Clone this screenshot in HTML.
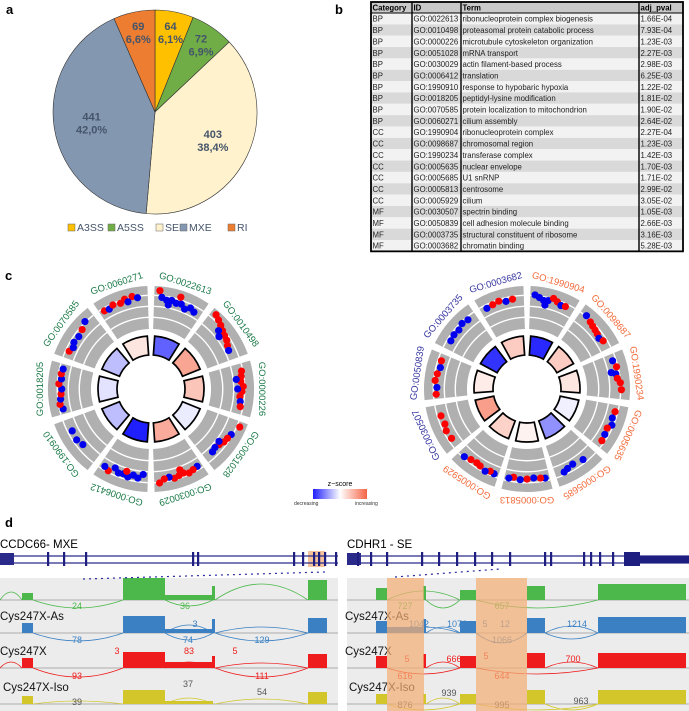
<!DOCTYPE html>
<html><head><meta charset="utf-8"><style>
html,body{margin:0;padding:0;background:#fff;}
svg{display:block;font-family:"Liberation Sans",sans-serif;}
</style></head><body>
<svg id="fig" width="689" height="711" viewBox="0 0 689 711" xmlns="http://www.w3.org/2000/svg">
<text x="6" y="14" font-size="13" font-weight="bold">a</text>
<text x="335" y="14" font-size="13" font-weight="bold">b</text>
<text x="5" y="280" font-size="13" font-weight="bold">c</text>
<text x="5" y="527" font-size="13" font-weight="bold">d</text>
<g id="pie"></g>
<g id="legend"></g>
<g id="table"></g>
<g id="circL"></g>
<g id="circR"></g>
<g id="cbar"></g>
<g id="sashimi"></g>
</svg>
<script>
var NS="http://www.w3.org/2000/svg";
// ---------- pie data ----------
var pieLabels=["A3SS","A5SS","SE","MXE","RI"];
var pieValues=[64,72,403,441,69];
var piePct=["6,1%","6,9%","38,4%","42,0%","6,6%"];
var pieColors=["#ffc000","#70ad47","#fff2cc","#8497b0","#ed7d31"];
// ---------- table data ----------
var tCat=["BP","BP","BP","BP","BP","BP","BP","BP","BP","BP","CC","CC","CC","CC","CC","CC","CC","MF","MF","MF","MF"];
var tId=["GO:0022613","GO:0010498","GO:0000226","GO:0051028","GO:0030029","GO:0006412","GO:1990910","GO:0018205","GO:0070585","GO:0060271","GO:1990904","GO:0098687","GO:1990234","GO:0005635","GO:0005685","GO:0005813","GO:0005929","GO:0030507","GO:0050839","GO:0003735","GO:0003682"];
var tTerm=["ribonucleoprotein complex biogenesis","proteasomal protein catabolic process","microtubule cytoskeleton organization","mRNA transport","actin filament-based process","translation","response to hypobaric hypoxia","peptidyl-lysine modification","protein localization to mitochondrion","cilium assembly","ribonucleoprotein complex","chromosomal region","transferase complex","nuclear envelope","U1 snRNP","centrosome","cilium","spectrin binding","cell adhesion molecule binding","structural constituent of ribosome","chromatin binding"];
var tP=["1.66E-04","7.93E-04","1.23E-03","2.27E-03","2.98E-03","6.25E-03","1.22E-02","1.81E-02","1.90E-02","2.64E-02","2.27E-04","1.23E-03","1.42E-03","1.70E-03","1.71E-02","2.99E-02","3.05E-02","1.05E-03","2.66E-03","3.16E-03","5.28E-03"];
// ---------- circle data ----------
var circLTerms=["GO:0022613","GO:0010498","GO:0000226","GO:0051028","GO:0030029","GO:0006412","GO:1990910","GO:0018205","GO:0070585","GO:0060271"];
var circLZ=[-0.85,0.7,0.45,-0.1,0.65,-1.2,-0.35,-0.15,-0.35,0.2];
var circRTerms=["GO:1990904","GO:0098687","GO:1990234","GO:0005635","GO:0005685","GO:0005813","GO:0005929","GO:0030507","GO:0050839","GO:0003735","GO:0003682"];
var circRZ=[-1.15,0.4,0.2,-0.08,-0.6,0.1,0.35,0.75,0.15,-1.1,0.4];
// points: [sector, angleFrac, radialFrac, red(1)/blue(0)]
var ptsL=[[0,0.1,0.9,1],[0,0.15,0.75,0],[0,0.25,0.7,0],[0,0.35,0.72,0],[0,0.45,0.68,0],[0,0.55,0.7,0],[0,0.65,0.62,0],[0,0.75,0.7,0],[0,0.5,0.85,1],[0,0.85,0.65,0],[0,0.3,0.6,0],
[1,0.1,0.9,1],[1,0.2,0.85,1],[1,0.3,0.8,1],[1,0.4,0.75,1],[1,0.5,0.72,1],[1,0.6,0.7,1],[1,0.45,0.6,0],[1,0.7,0.65,1],[1,0.8,0.62,0],[1,0.35,0.68,0],
[2,0.15,0.75,1],[2,0.25,0.72,1],[2,0.35,0.7,1],[2,0.45,0.75,1],[2,0.55,0.72,1],[2,0.65,0.68,1],[2,0.75,0.7,0],[2,0.3,0.6,0],[2,0.85,0.72,1],[2,0.5,0.62,0],
[3,0.1,0.85,1],[3,0.3,0.75,0],[3,0.4,0.72,1],[3,0.5,0.7,1],[3,0.6,0.65,1],[3,0.7,0.62,0],[3,0.55,0.6,0],[3,0.8,0.65,0],
[4,0.1,0.7,0],[4,0.2,0.72,1],[4,0.3,0.75,1],[4,0.4,0.7,1],[4,0.5,0.72,1],[4,0.6,0.75,1],[4,0.7,0.7,0],[4,0.8,0.72,1],[4,0.9,0.8,1],[4,0.45,0.6,1],
[5,0.1,0.6,0],[5,0.2,0.7,0],[5,0.3,0.65,0],[5,0.4,0.72,0],[5,0.5,0.68,0],[5,0.6,0.7,0],[5,0.7,0.62,0],[5,0.8,0.75,1],[5,0.9,0.7,0],[5,0.45,0.6,1],
[6,0.4,0.65,0],[6,0.55,0.7,0],[6,0.75,0.68,0],
[7,0.1,0.7,0],[7,0.2,0.75,1],[7,0.3,0.72,0],[7,0.4,0.7,1],[7,0.5,0.68,0],[7,0.6,0.75,1],[7,0.7,0.7,0],[7,0.8,0.72,1],[7,0.9,0.7,0],
[8,0.15,0.7,1],[8,0.25,0.65,0],[8,0.35,0.7,0],[8,0.5,0.68,0],[8,0.65,0.72,1],[8,0.8,0.8,0],
[9,0.1,0.72,1],[9,0.2,0.7,0],[9,0.3,0.75,1],[9,0.45,0.72,1],[9,0.55,0.78,1],[9,0.7,0.8,1],[9,0.8,0.75,0],[9,0.6,0.7,0]];
var ptsR=[[0,0.1,0.8,0],[0,0.2,0.75,0],[0,0.3,0.7,0],[0,0.4,0.72,0],[0,0.5,0.8,1],[0,0.6,0.75,1],[0,0.7,0.7,0],[0,0.8,0.72,1],[0,0.35,0.6,0],
[1,0.15,0.8,0],[1,0.3,0.75,1],[1,0.4,0.72,1],[1,0.5,0.7,1],[1,0.6,0.68,1],[1,0.7,0.65,0],[1,0.8,0.7,1],
[2,0.15,0.7,0],[2,0.3,0.75,1],[2,0.45,0.7,0],[2,0.55,0.72,1],[2,0.65,0.78,1],[2,0.8,0.8,1],[2,0.4,0.6,0],
[3,0.15,0.72,1],[3,0.3,0.7,0],[3,0.45,0.75,0],[3,0.55,0.68,1],[3,0.7,0.7,0],[3,0.85,0.72,1],
[4,0.3,0.7,0],[4,0.55,0.65,0],[4,0.7,0.68,0],[4,0.8,0.72,0],
[5,0.1,0.72,0],[5,0.2,0.7,1],[5,0.35,0.68,0],[5,0.5,0.7,1],[5,0.65,0.72,0],[5,0.8,0.68,1],[5,0.9,0.72,0],
[6,0.1,0.72,0],[6,0.2,0.7,1],[6,0.3,0.75,0],[6,0.45,0.7,1],[6,0.55,0.68,1],[6,0.7,0.7,1],[6,0.85,0.75,0],
[7,0.2,0.7,1],[7,0.4,0.72,1],[7,0.55,0.68,1],[7,0.75,0.7,1],
[8,0.1,0.72,1],[8,0.25,0.7,0],[8,0.4,0.75,1],[8,0.55,0.72,1],[8,0.7,0.68,0],[8,0.85,0.7,1],
[9,0.2,0.7,0],[9,0.35,0.72,0],[9,0.5,0.7,0],[9,0.65,0.75,0],[9,0.8,0.72,0],
[10,0.15,0.7,0],[10,0.3,0.72,1],[10,0.45,0.75,1],[10,0.6,0.7,0],[10,0.75,0.72,1]];

function el(tag,attrs,parent,txt){var e=document.createElementNS(NS,tag);for(var k in attrs)e.setAttribute(k,attrs[k]);if(txt!==undefined)e.textContent=txt;parent.appendChild(e);return e;}

// ---------- pie ----------
(function(){
var g=document.getElementById('pie');var cx=155,cy=112,r=102;
var tot=pieValues.reduce(function(a,b){return a+b;},0);var a0=0;
for(var i=0;i<pieValues.length;i++){
 var a1=a0+pieValues[i]/tot*2*Math.PI;
 var x0=cx+r*Math.sin(a0),y0=cy-r*Math.cos(a0),x1=cx+r*Math.sin(a1),y1=cy-r*Math.cos(a1);
 var p=el('path',{d:'M'+cx+','+cy+'L'+x0+','+y0+'A'+r+','+r+' 0 '+((a1-a0)>Math.PI?1:0)+' 1 '+x1+','+y1+'Z',fill:pieColors[i],stroke:'#333','stroke-width':0.6},g);
 
 
 var m=(a0+a1)/2,f=(pieValues[i]/tot<0.1)?0.8:0.63;
 var lx=cx+r*f*Math.sin(m),ly=cy-r*f*Math.cos(m);
 var t1=el('text',{x:lx,y:ly-2,'text-anchor':'middle','font-size':11,'font-weight':'bold',fill:'#44546a'},g,String(pieValues[i]));
 
 
 var t2=el('text',{x:lx,y:ly+11,'text-anchor':'middle','font-size':11,'font-weight':'bold',fill:'#44546a'},g,piePct[i]);
 
 
 a0=a1;}
var lg=document.getElementById('legend');var lxs=[68,108,156,180,228];
for(var j=0;j<pieLabels.length;j++){
 var s=el('rect',{x:lxs[j],y:224,width:7,height:7,fill:pieColors[j],stroke:'#666','stroke-width':0.5},lg);
 
 
 var t=el('text',{x:lxs[j]+9,y:231,'font-size':10.5,fill:'#44546a'},lg,pieLabels[j]);
 
 }
})();

// ---------- table ----------
(function(){
var g=document.getElementById('table');var L=371,R=683,top=2,hh=11,rh=11.35;var cols=[371,412,461,639,683];
var bg=el('rect',{x:L,y:top,width:R-L,height:hh,fill:'#c9c9c9'},g);


var heads=["Category","ID","Term","adj_pval"];
for(var h=0;h<4;h++){var ht=el('text',{x:cols[h]+1.5,y:top+8.7,'font-size':7.8,'font-weight':'bold'},g,heads[h]);
 
 }
for(var i=0;i<tId.length;i++){
 var y=top+hh+i*rh;
 var rr=el('rect',{x:L,y:y,width:R-L,height:rh,fill:(i%2?'#d9d9d9':'#f2f2f2')},g);
 
 
 var vals=[tCat[i],tId[i],tTerm[i],tP[i]];
 for(var c=0;c<4;c++){var tt=el('text',{x:cols[c]+1.5,y:y+8.7,'font-size':7.8,fill:'#222'},g,vals[c]);
  
  }
}
var bot=top+hh+tId.length*rh;
for(var k=1;k<4;k++){var ln=el('line',{x1:cols[k],x2:cols[k],y1:top,y2:bot,stroke:'#000','stroke-width':1.4},g);
 
 }
var hl=el('line',{x1:L,x2:R,y1:top+hh,y2:top+hh,stroke:'#000','stroke-width':1},g);


var bd=el('rect',{x:L,y:top,width:R-L,height:bot-top,fill:'none',stroke:'#000','stroke-width':1.8},g);


})();

// ---------- circles ----------
function zcol(z){var m=1.2,t=Math.min(1,Math.abs(z)/m);var c=z<0?[32,32,255]:[245,100,70];
 var r=Math.round(255+(c[0]-255)*t),g=Math.round(255+(c[1]-255)*t),b=Math.round(255+(c[2]-255)*t);return 'rgb('+r+','+g+','+b+')';}
function annulus(cx,cy,r0,r1,a0,a1){var d2r=Math.PI/180;a0*=d2r;a1*=d2r;
 function P(r,a){return (cx+r*Math.sin(a)).toFixed(2)+','+(cy-r*Math.cos(a)).toFixed(2);}
 return 'M'+P(r1,a0)+'A'+r1+','+r1+' 0 0 1 '+P(r1,a1)+'L'+P(r0,a1)+'A'+r0+','+r0+' 0 0 0 '+P(r0,a0)+'Z';}
function drawCircle(gid,cx,cy,terms,zs,pts,labCol){
 var g=document.getElementById(gid);var n=terms.length,sp=360/n;
 var b0=60,b1=103,i0=34,i1=53;
 for(var i=0;i<n;i++){
  var a0=i*sp+2,a1=(i+1)*sp-2;
  var band=el('path',{d:annulus(cx,cy,b0,b1,a0,a1),fill:'#b0b0b0'},g);
  
  
  [71,82,93].forEach(function(rw){el('path',{d:annulus(cx,cy,rw,rw+1.4,a0,a1),fill:'#fff'},g);});
  var za=i*sp+4,zb=(i+1)*sp-4;
  var seg=el('path',{d:annulus(cx,cy,i0,i1,za,zb),fill:zcol(zs[i]),stroke:'#000','stroke-width':1.7},g);
  
  
  var mid=(i+0.5)*sp;
  var col=typeof labCol==='function'?labCol(i):labCol;
  var tx=el('text',{x:0,y:-108,'text-anchor':'middle','font-size':9.5,fill:col,transform:'translate('+cx+','+cy+') rotate('+mid+')'},g,terms[i]);
  
  
 }
 pts.forEach(function(p){
  var a=(p[0]*sp+2+p[1]*(sp-4))*Math.PI/180,r=b0+p[2]*(b1-b0);
  var c=el('circle',{cx:cx+r*Math.sin(a),cy:cy-r*Math.cos(a),r:3.6,fill:p[3]?'#ff0000':'#0000ee'},g);
  
  
 });
}
drawCircle('circL',151,389,circLTerms,circLZ,ptsL,'#1b7a48');
drawCircle('circR',527,389,circRTerms,circRZ,ptsR,function(i){return i<7?'#f26b3a':'#3535a0';});
(function(){var g=document.getElementById('cbar');
 var defs=el('defs',{},g);var lg=el('linearGradient',{id:'zg',x1:0,x2:1,y1:0,y2:0},defs);
 el('stop',{offset:'0','stop-color':'#2020ff'},lg);el('stop',{offset:'0.5','stop-color':'#ffffff'},lg);el('stop',{offset:'1','stop-color':'#f56446'},lg);
 var r=el('rect',{x:313,y:489,width:54,height:10,fill:'url(#zg)'},g);
 
 var t=el('text',{x:340,y:486,'text-anchor':'middle','font-size':7},g,'z\u2212score');
 
 var t2=el('text',{x:294,y:505,'font-size':5,fill:'#333'},g,'decreasing');
 
 var t3=el('text',{x:355,y:505,'font-size':5,fill:'#333'},g,'increasing');
 
})();

// ---------- sashimi ----------
var trackNames=["","Cys247X-As","Cys247X","Cys247X-Iso"];
var trackColors=["#4cb84c","#3a80c3","#ee1c1c","#d2c62a"];
var trackBase=[600,633,668,704];
// coverage blocks [x0,x1,height per track]
var covL=[[22,33,[7,10,10,8]],[123,165,[22,17,16,14]],[165,213,[5,4,6,3]],[212,215,[14,14,12,0]],[308,327,[20,15,14,12]]];
var covR=[[376,387,[12,12,12,10]],[387,424,[0,6,0,0]],[423,426,[14,14,14,10]],[460,476,[10,12,12,10]],[476,527,[0,0,0,0]],[527,545,[14,15,15,14]],[598,686,[16,16,15,14]]];
// junction arcs [track,x0,x1,depth]
var arcsL=[[0,33,123,8],[0,165,213,6],[0,215,308,-16],[0,0,22,-8],[1,33,123,8],[1,165,213,7],[1,215,308,8],[1,165,213,-8],[1,215,308,-6],[2,33,123,9],[2,215,308,9],[2,165,213,-6],[2,215,308,-5],[2,0,22,-6],[3,33,123,-3],[3,165,213,-6],[3,215,308,-5]];
var arcsR=[[0,387,460,-9],[0,426,460,8],[0,476,598,8],[1,387,460,-6],[1,426,460,-6],[1,476,527,10],[1,545,598,-7],[1,545,598,6],[2,387,460,6],[2,426,460,-6],[2,476,598,6],[2,545,598,-6],[3,426,460,-6],[3,387,460,6],[3,476,598,6],[3,545,598,6]];
var numsL=[["24",77,609,0],["36",185,609,0],["3",195,627,1],["78",77,643,1],["74",188,643,1],["129",262,643,1],["3",117,654,2],["83",189,654,2],["5",235,654,2],["93",77,679,2],["111",262,679,2],["37",188,687,3],["54",262,695,3],["39",77,705,3]];
var numsR=[["727",405,609,0],["657",502,609,0],["1042",419,627,1],["1076",457,627,1],["5",485,627,1],["12",505,627,1],["1214",577,627,1],["1066",502,643,1],["5",407,662,2],["666",454,662,2],["5",486,659,2],["700",573,662,2],["616",405,679,2],["644",502,679,2],["939",449,696,3],["876",405,708,3],["995",502,708,3],["963",581,704,3]];
var exonsL=[48,64,86,193,198,294,303,314,319,325,336];
var exonsR=[358,371,387,422,439,457,475,492,510,545,551,584,591,600,613];
(function(){
 var g=document.getElementById('sashimi');
 function panel(x0,x1,title,exons,cov,arcs,nums,labOff,hl,geneHl){
  var t=el('text',{x:x0,y:548,'font-size':11.5},g,title);
  
  if(geneHl){var gh=el('rect',{x:geneHl[0],y:551,width:geneHl[1]-geneHl[0],height:16,fill:'#f5c29a'},g);
   }
  [556,563].forEach(function(y){var l=el('line',{x1:x0,x2:x1,y1:y,y2:y,stroke:'#2a2a8a','stroke-width':1.2},g);
   });
  var lb=el('rect',{x:x0,y:553,width:14,height:12,fill:'#2a2a8a'},g);
  
  exons.forEach(function(x){var e=el('rect',{x:x-1,y:552,width:2.2,height:14,fill:'#1e1e80'},g);
   });
  var bg=el('rect',{x:x0,y:578,width:x1-x0,height:133,fill:'#ececec'},g);
  
  for(var tr=0;tr<4;tr++){
   var b=trackBase[tr];
   var base=el('line',{x1:x0,x2:x1,y1:b,y2:b,stroke:'#999','stroke-width':0.7},g);
   
   cov.forEach(function(c){var h=c[2][tr];if(!h)return;
    var r=el('rect',{x:c[0],y:b-h,width:c[1]-c[0],height:h,fill:trackColors[tr]},g);
    });
   if(trackNames[tr]){var tl=el('text',{x:x0+labOff[tr],y:b-13,'font-size':11.5,fill:'#111'},g,trackNames[tr]);
    }
  }
  arcs.forEach(function(a){var b=trackBase[a[0]];var m=(a[1]+a[2])/2;
   var p=el('path',{d:'M'+a[1]+','+b+'Q'+m+','+(b+a[3]*2)+' '+a[2]+','+b,fill:'none',stroke:trackColors[a[0]],'stroke-width':0.8},g);
   });
  nums.forEach(function(n){var tx=el('text',{x:n[1],y:n[2],'text-anchor':'middle','font-size':9,fill:n[0]&&n[3]===3?'#555':trackColors[n[3]]},g,n[0]);
   });
  if(hl)hl.forEach(function(h){var r=el('rect',{x:h[0],y:578,width:h[1]-h[0],height:133,fill:'#f3ae74','fill-opacity':0.7},g);
   });
 }
 panel(0,338,'CCDC66- MXE',exonsL,covL,arcsL,numsL,[0,0,0,3],null,[308,325]);
 panel(347,689,'CDHR1 - SE',exonsR,covR,arcsR,numsR,[0,-2,-2,2],[[387,424],[476,527]],null);
 var big=el('rect',{x:624,y:552,width:16,height:14,fill:'#1e1e80'},g);
 var big2=el('rect',{x:640,y:556,width:49,height:7,fill:'#1e1e80'},g);
 var d1=el('line',{x1:83,y1:579,x2:325,y2:572,stroke:'#2a2aa0','stroke-width':1.2,'stroke-dasharray':'2,4'},g);
 
 var d2=el('line',{x1:395,y1:577,x2:500,y2:569,stroke:'#2a2aa0','stroke-width':1.2,'stroke-dasharray':'2,4'},g);
 
})();
</script>
</body></html>
